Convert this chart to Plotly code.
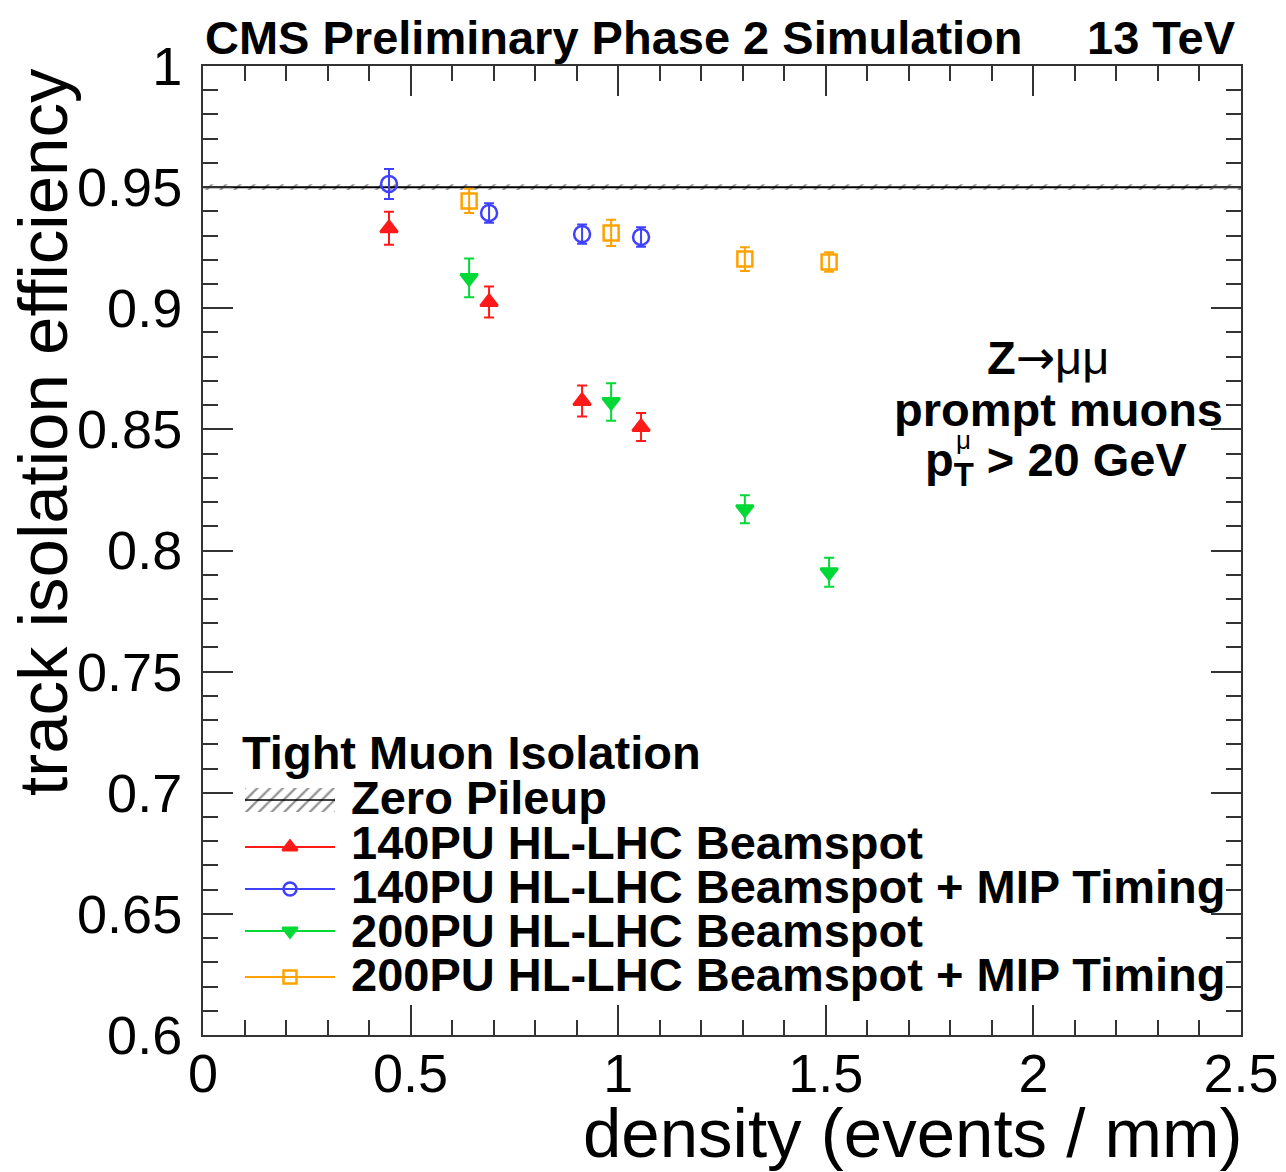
import plotly.graph_objects as go

# ---------------- data ----------------
density_140 = [0.448, 0.689, 0.913, 1.055]
density_200 = [0.641, 0.983, 1.305, 1.508]

eff_140_bs = [0.933, 0.9026, 0.8617, 0.851]
err_140_bs = [0.0068, 0.0064, 0.0064, 0.0058]

eff_140_mip = [0.9513, 0.9393, 0.9306, 0.9294]
err_140_mip = [0.0062, 0.0040, 0.0040, 0.0040]

eff_200_bs = [0.9125, 0.8613, 0.817, 0.791]
err_200_bs = [0.0080, 0.0077, 0.0058, 0.0060]

eff_200_mip = [0.9443, 0.9311, 0.9203, 0.9191]
err_200_mip = [0.0050, 0.0054, 0.0049, 0.0040]

zero_pu_eff = 0.95
zero_pu_unc = 0.0012
zero_pu_x = [0.0, 2.5]

series_names = ["140PU HL-LHC Beamspot", "140PU HL-LHC Beamspot + MIP Timing",
                "200PU HL-LHC Beamspot", "200PU HL-LHC Beamspot + MIP Timing"]

x_tickvals = [0, 0.5, 1, 1.5, 2, 2.5]
x_ticktext = ["0", "0.5", "1", "1.5", "2", "2.5"]
y_tickvals = [0.6, 0.65, 0.7, 0.75, 0.8, 0.85, 0.9, 0.95, 1.0]
y_ticktext = ["0.6", "0.65", "0.7", "0.75", "0.8", "0.85", "0.9", "0.95", "1"]

# ---------------- styling ----------------
FONT = "Liberation Sans, Arial, Helvetica, sans-serif"
W, H = 1286, 1172
L, R, T, B = 203, 45, 66, 137
PW, PH = W - L - R, H - T - B

def px(xpix):
    return (xpix - L) / PW

def py(ypix):
    return (H - B - ypix) / PH

RED = "#ff1a1a"
BLUE = "#4040ff"
GREEN = "#00d936"
ORANGE = "#ffa200"
AX = "#333333"
LEGFONT = dict(size=47, family=FONT, color="black")

fig = go.Figure()

# zero pileup band + line
xs = [zero_pu_x[0], zero_pu_x[1], zero_pu_x[1], zero_pu_x[0], zero_pu_x[0]]
ys = [zero_pu_eff - zero_pu_unc, zero_pu_eff - zero_pu_unc,
      zero_pu_eff + zero_pu_unc, zero_pu_eff + zero_pu_unc, zero_pu_eff - zero_pu_unc]
fig.add_trace(go.Scatter(x=xs, y=ys, mode="lines", fill="toself",
                         fillcolor="rgba(0,0,0,0)", line=dict(width=0),
                         fillpattern=dict(shape="/", fgcolor="#222", bgcolor="rgba(0,0,0,0)",
                                          size=10, solidity=0.2),
                         showlegend=False, hoverinfo="skip"))
fig.add_trace(go.Scatter(x=zero_pu_x, y=[zero_pu_eff, zero_pu_eff], mode="lines",
                         line=dict(color="black", width=2), showlegend=False))

series = [
    (density_140, eff_140_bs, err_140_bs, RED, "triangle-up", 15),
    (density_140, eff_140_mip, err_140_mip, BLUE, "circle-open", 16),
    (density_200, eff_200_bs, err_200_bs, GREEN, "triangle-down", 15),
    (density_200, eff_200_mip, err_200_mip, ORANGE, "square-open", 15),
]
for (xv, yv, ev, col, sym, sz), name in zip(series, series_names):
    fig.add_trace(go.Scatter(
        x=xv, y=yv, mode="markers", name=name, showlegend=False,
        marker=dict(symbol=sym, size=sz, color=col, line=dict(color=col, width=2.5)),
        error_y=dict(type="data", array=ev, visible=True, color=col, thickness=2, width=5),
    ))

# ---------------- custom legend (paper coords via overlay axes) ----------------
leg_glyph_x0, leg_glyph_x1, leg_glyph_xm = px(245), px(335), px(290)
glyph_rows = [847, 889, 931, 977]
text_rows = [842, 886, 930, 974]
styles = [(RED, "triangle-up"), (BLUE, "circle-open"), (GREEN, "triangle-down"), (ORANGE, "square-open")]

annotations = []
shapes = []
for (col, sym), gy, ty, name in zip(styles, glyph_rows, text_rows, series_names):
    shapes.append(dict(type="line", xref="paper", yref="paper",
                       x0=leg_glyph_x0, x1=leg_glyph_x1, y0=py(gy), y1=py(gy),
                       line=dict(color=col, width=2)))
    fig.add_trace(go.Scatter(x=[leg_glyph_xm], y=[py(gy)], xaxis="x2", yaxis="y2",
                             mode="markers", showlegend=False, hoverinfo="skip",
                             marker=dict(symbol=sym, size=13, color=col,
                                         line=dict(color=col, width=2.5))))
    annotations.append(dict(text="<b>" + name + "</b>", xref="paper", yref="paper",
                            x=px(349), y=py(ty), xanchor="left", yanchor="middle",
                            showarrow=False, font=LEGFONT))

# zero pileup glyph
zy0, zy1 = py(812), py(788)
fig.add_trace(go.Scatter(x=[leg_glyph_x0, leg_glyph_x1, leg_glyph_x1, leg_glyph_x0, leg_glyph_x0],
                         y=[zy0, zy0, zy1, zy1, zy0], xaxis="x2", yaxis="y2",
                         mode="lines", fill="toself", fillcolor="rgba(0,0,0,0)",
                         line=dict(width=0), showlegend=False, hoverinfo="skip",
                         fillpattern=dict(shape="/", fgcolor="#222", bgcolor="rgba(0,0,0,0)",
                                          size=9, solidity=0.25)))
shapes.append(dict(type="line", xref="paper", yref="paper",
                   x0=leg_glyph_x0, x1=leg_glyph_x1, y0=py(800), y1=py(800),
                   line=dict(color="black", width=1.5)))
annotations.append(dict(text="<b>Zero Pileup</b>", xref="paper", yref="paper",
                        x=px(349), y=py(797), xanchor="left", yanchor="middle",
                        showarrow=False, font=LEGFONT))
annotations.append(dict(text="<b>Tight Muon Isolation</b>", xref="paper", yref="paper",
                        x=px(240), y=py(752), xanchor="left", yanchor="middle",
                        showarrow=False, font=LEGFONT))

# right-hand text
ARROW = "<span style='font-family:DejaVu Sans;font-weight:normal'>→</span>"
annotations += [
    dict(text="<b>Z</b>" + ARROW + "<span style='font-weight:normal'>μμ</span>",
         x=px(1048), y=py(357), xanchor="center", yanchor="middle"),
    dict(text="<b>prompt muons</b>", x=px(1058), y=py(409), xanchor="center", yanchor="middle"),
    dict(text="<b>p<sub>T</sub> > 20 GeV</b>", x=px(1056), y=py(463), xanchor="center", yanchor="middle"),
    dict(text="μ", x=px(963), y=py(440), xanchor="center", yanchor="middle",
         font=dict(size=26, family=FONT, color="black")),
]
for a in annotations[-4:]:
    a.update(xref="paper", yref="paper", showarrow=False)
    a.setdefault("font", LEGFONT)

# header
annotations += [
    dict(text="<b>CMS Preliminary Phase 2 Simulation</b>", x=px(203), y=py(37),
         xanchor="left", yanchor="middle"),
    dict(text="<b>13 TeV</b>", x=px(1238), y=py(37), xanchor="right", yanchor="middle"),
]
for a in annotations[-2:]:
    a.update(xref="paper", yref="paper", showarrow=False,
             font=dict(size=47, family=FONT, color="black"))

# axis titles
annotations += [
    dict(text="density (events / mm)", x=px(1245), y=py(1133), xanchor="right", yanchor="middle",
         xref="paper", yref="paper", showarrow=False,
         font=dict(size=69, family=FONT, color="black")),
    dict(text="track isolation efficiency", x=px(43), y=py(66), xanchor="center", yanchor="top",
         textangle=-90, xref="paper", yref="paper", showarrow=False,
         font=dict(size=69, family=FONT, color="black")),
]

axis_common = dict(showgrid=False, zeroline=False, showline=True, linecolor=AX, linewidth=2,
                   mirror="allticks", ticks="inside", ticklen=30, tickwidth=1.5, tickcolor=AX,
                   automargin=False,
                   tickfont=dict(size=54, family=FONT, color="black"))

fig.update_layout(
    width=W, height=H,
    margin=dict(l=L, r=R, t=T, b=B, autoexpand=False),
    paper_bgcolor="white", plot_bgcolor="white",
    showlegend=False,
    xaxis=dict(range=[0, 2.5], tickvals=x_tickvals, ticktext=x_ticktext,
               minor=dict(dtick=0.1, ticklen=15, ticks="inside", tickcolor=AX, tickwidth=1.5),
               ticklabelstandoff=-10,
               **axis_common),
    yaxis=dict(range=[0.6, 1.0], tickvals=y_tickvals, ticktext=y_ticktext,
               minor=dict(dtick=0.01, ticklen=15, ticks="inside", tickcolor=AX, tickwidth=1.5),
               ticklabelstandoff=8,
               **axis_common),
    xaxis2=dict(range=[0, 1], overlaying="x", visible=False, fixedrange=True),
    yaxis2=dict(range=[0, 1], overlaying="y", visible=False, fixedrange=True),
    annotations=annotations,
    shapes=shapes,
)

fig.write_html("out.html")
